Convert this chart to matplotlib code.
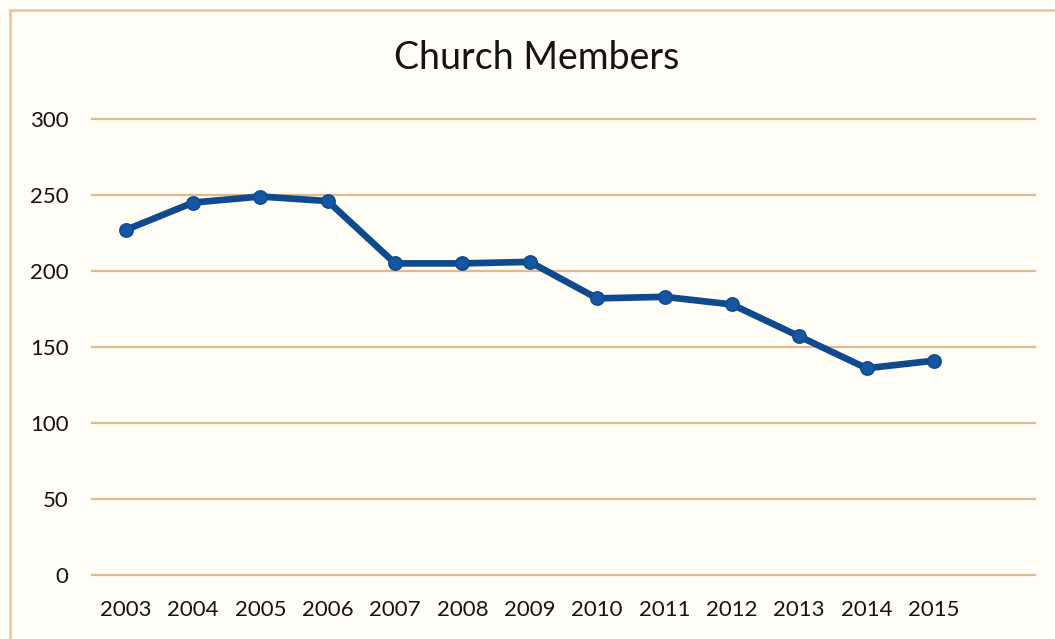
import matplotlib
matplotlib.use("Agg")
import matplotlib.pyplot as plt
from matplotlib.lines import Line2D

# Church membership by year
years = ["2003", "2004", "2005", "2006", "2007", "2008", "2009",
         "2010", "2011", "2012", "2013", "2014", "2015"]
members = [227, 245, 249, 246, 205, 205, 206, 182, 183, 178, 157, 136, 141]
y_ticks = [0, 50, 100, 150, 200, 250, 300]

BG = "#FFFDF5"
GRID = "#E2BA8E"
BORDER = "#E6C6A0"
LINE = "#0F4A8E"
TEXT = "#141414"

plt.rcParams["font.family"] = ["Lato", "DejaVu Sans"]

W, H = 1055, 639
fig = plt.figure(figsize=(W / 100, H / 100), dpi=100, facecolor=BG)

ax = fig.add_axes([92 / W, (H - 575) / H, (1035 - 92) / W, 456 / H])
ax.set_facecolor(BG)

x = list(range(len(years)))
ax.plot(x, members, color=LINE, lw=4.8, marker="o", markersize=9.5,
        markerfacecolor="#1657A3", markeredgecolor=LINE, markeredgewidth=1.2,
        solid_joinstyle="round", clip_on=False, zorder=3)

# Excel-style category axis with one spare slot at the right
ax.set_xlim(-0.5, len(years) + 0.5)
ax.set_ylim(0, 300)
ax.set_xticks(x)
ax.set_xticklabels(years)
ax.set_yticks(y_ticks)
ax.set_yticklabels([str(v) for v in y_ticks])

ax.grid(axis="y", color=GRID, lw=1.6, zorder=0)
ax.grid(axis="x", visible=False)
ax.set_axisbelow(True)
for gl in ax.get_ygridlines():
    gl.set_clip_on(False)
for s in ax.spines.values():
    s.set_visible(False)
ax.tick_params(axis="both", length=0, labelsize=16, colors=TEXT)
ax.tick_params(axis="y", pad=17)
ax.tick_params(axis="x", pad=18)

fig.text(537 / W, 1 - 58 / H, "Church Members", ha="center", va="center",
         fontsize=27, color=TEXT)

# chart frame (left and top edges visible)
fig.add_artist(Line2D([10 / W, 10 / W], [0, 1 - 10 / H], transform=fig.transFigure,
                      color=BORDER, lw=1.8))
fig.add_artist(Line2D([10 / W, 1], [1 - 10 / H, 1 - 10 / H], transform=fig.transFigure,
                      color=BORDER, lw=1.8))

fig.savefig("out.png", dpi=100, facecolor=BG)
